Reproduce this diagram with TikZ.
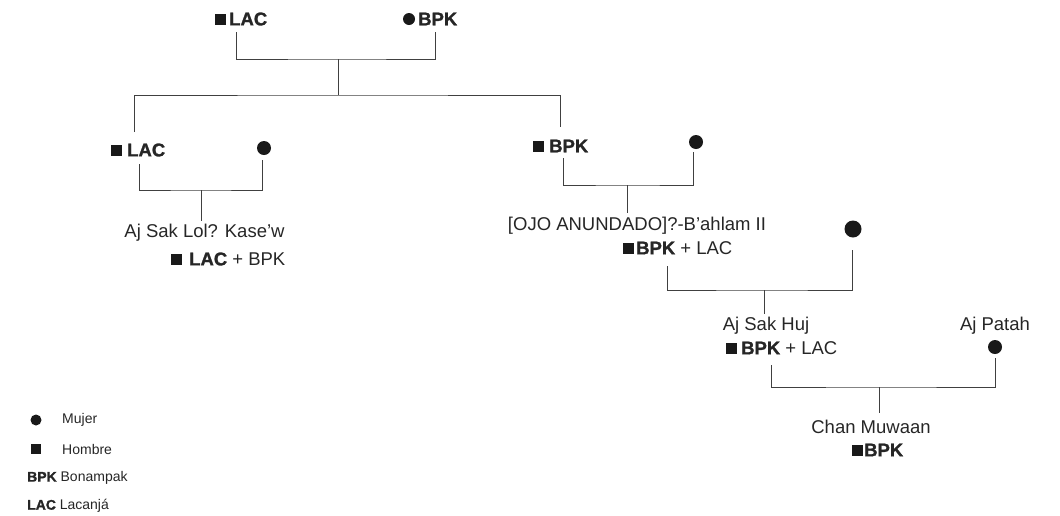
\documentclass[tikz,border=0pt]{standalone}
\usepackage{fontspec}
\setmainfont{Liberation Sans}
\newfontfamily\heavyfont[FakeBold=1.3]{Liberation Sans Bold}
\newcommand{\hv}[1]{{\heavyfont #1}}
\begin{document}
\begin{tikzpicture}[x=1pt,y=-1pt,
  sq/.style={fill=black!90, minimum size=11pt, inner sep=0pt, draw=none},
  dot/.style={circle, fill=black!90, minimum size=14pt, inner sep=0pt, draw=none},
  txt/.style={font=\fontsize{18.5}{21}\selectfont, inner sep=0pt, text=black!85},
  lbl/.style={txt, anchor=west},
  lgd/.style={font=\fontsize{14}{16}\selectfont, inner sep=0pt, anchor=west, text=black!85},
  ln/.style={draw=black!75, line width=1pt}]
\useasboundingbox (0,0) rectangle (1060,515);

% generation 1
\node[sq] (s1) at (220,19) {};
\node[lbl] (t1) at (229,19) {\hv{LAC}};
\node[dot, minimum size=12pt] (d1) at (409,19) {};
\node[lbl] (t2) at (418,19) {\hv{BPK}};
\coordinate (a1) at (236,32);
\coordinate (a2) at (435,32);
\coordinate (j1) at (338,59);
\coordinate (j2) at (338,95);
\draw[ln] (a1) |- (j1) -| (a2);
\draw[ln] (j1) -- (j2);
\coordinate (b1) at (134,132);
\coordinate (b2) at (560,127);
\draw[ln] (b1) |- (j2) -| (b2);

% generation 2 left
\node[sq] (s2) at (116,150) {};
\node[lbl] (t3) at (127,150) {\hv{LAC}};
\node[dot] (d2) at (264,148) {};
\coordinate (c1) at (139,164);
\coordinate (c2) at (262,160);
\coordinate (j3) at (201,190);
\draw[ln] (c1) |- (j3) -| (c2);
\node[txt] (n1) at (204.5,233) {Aj Sak Lol? Kase’w};
\coordinate (k3) at (201,221);
\draw[ln] (j3) -- (k3);
\node[sq] (s3) at (176,259) {};
\node[lbl] (t4) at (189,259) {\hv{LAC} + BPK};

% generation 2 right
\node[sq] (s4) at (538,146) {};
\node[lbl] (t5) at (549,146) {\hv{BPK}};
\node[dot] (d3) at (696,142) {};
\coordinate (e1) at (563,158);
\coordinate (e2) at (693,152);
\coordinate (j4) at (627,185);
\draw[ln] (e1) |- (j4) -| (e2);
\node[txt] (n2) at (637,226) {[OJO ANUNDADO]?-B’ahlam II};
\coordinate (k4) at (627,213);
\draw[ln] (j4) -- (k4);
\node[sq] (s5) at (628,248) {};
\node[lbl] (t6) at (636,248) {\hv{BPK} + LAC};
\node[dot, minimum size=17pt] (d4) at (853,229) {};

% generation 3
\coordinate (f1) at (667,266);
\coordinate (f2) at (852,250);
\coordinate (j5) at (764,290);
\draw[ln] (f1) |- (j5) -| (f2);
\node[txt] (n3) at (766,326) {Aj Sak Huj};
\coordinate (k5) at (764,314);
\draw[ln] (j5) -- (k5);
\node[sq] (s6) at (731,348) {};
\node[lbl] (t7) at (741,348) {\hv{BPK} + LAC};
\node[txt] (n4) at (995,326) {Aj Patah};
\node[dot] (d5) at (995,347) {};

% generation 4
\coordinate (g1) at (771,365);
\coordinate (g2) at (995,358);
\coordinate (j6) at (879,387);
\draw[ln] (g1) |- (j6) -| (g2);
\node[txt] (n5) at (871,427) {Chan Muwaan};
\coordinate (k6) at (879,413);
\draw[ln] (j6) -- (k6);
\node[sq] (s7) at (857,450) {};
\node[lbl] (t8) at (864,450) {\hv{BPK}};

% legend
\node[dot, minimum size=11pt] (ld) at (36,420) {};
\node[lgd] (l1) at (62,420) {Mujer};
\node[sq, minimum size=10pt] (ls) at (36,449) {};
\node[lgd] (l2) at (62,449) {Hombre};
\node[lgd] (l3) at (27,478) {\hv{BPK} Bonampak};
\node[lgd] (l4) at (27,506) {\hv{LAC} Lacanjá};
\end{tikzpicture}
\end{document}
